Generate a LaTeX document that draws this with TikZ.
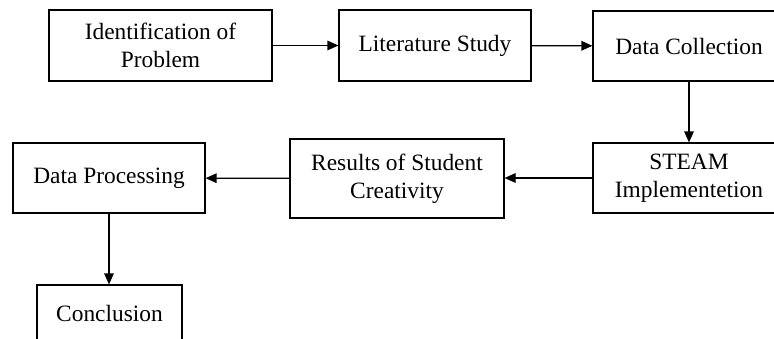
\documentclass[tikz,border=0pt]{standalone}
\usepackage{fontspec}
\setmainfont{Liberation Serif}
\usetikzlibrary{arrows.meta}
\begin{document}
\begin{tikzpicture}[x=0.5pt,y=-0.5pt,
  box/.style={draw,line width=0.6pt,inner sep=0pt,align=center,
    font=\fontsize{11.7pt}{14pt}\selectfont},
  arr/.style={-{Triangle[length=5.5pt,width=4.8pt]},line width=0.6pt}]
\useasboundingbox (0,0) rectangle (774,338);
\clip (0,0) rectangle (774,338);
\node[box,minimum width=111.5pt,minimum height=35.5pt] (b1) at (160.5,45.5) {Identification of\\Problem};
\node[box,minimum width=96pt,minimum height=35.5pt] (b2) at (435,45.5) {Literature Study};
\node[box,minimum width=96pt,minimum height=35pt] (b3) at (689,46) {Data Collection};
\node[box,minimum width=96pt,minimum height=35pt] (b4) at (689,178) {STEAM\\Implementetion};
\node[box,minimum width=107pt,minimum height=39.5pt] (b5) at (397,178.5) {Results of Student\\Creativity};
\node[box,minimum width=96pt,minimum height=35pt] (b6) at (109,178) {Data Processing};
\node[box,minimum width=72.5pt,minimum height=28pt] (b7) at (109.5,313) {Conclusion};
\draw[arr] (b1) -- (b2);
\draw[arr] (b2) -- (b3);
\draw[arr] (b3) -- (b4);
\draw[arr] (b4.west) -- (b5.east |- b4.west);
\draw[arr] (b5) -- (b6);
\draw[arr] (b6.south) -- (b6.south |- b7.north);
\end{tikzpicture}
\end{document}
